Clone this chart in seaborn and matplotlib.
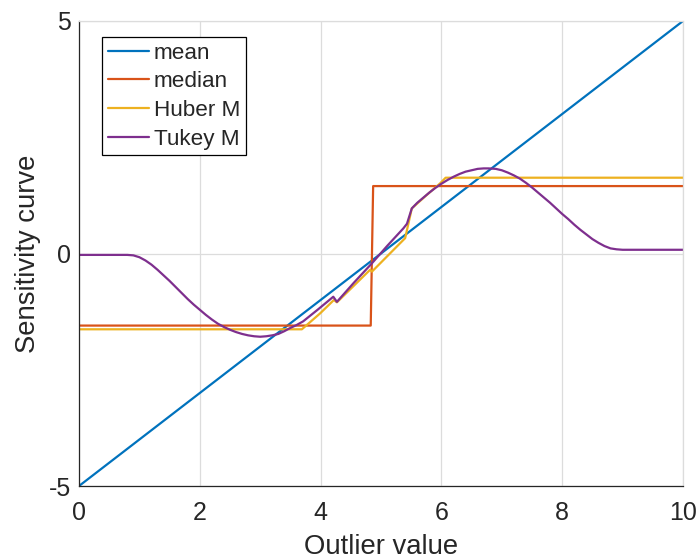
import matplotlib
matplotlib.use("Agg")
import matplotlib.pyplot as plt
import numpy as np
import pandas as pd
import seaborn as sns

# Sensitivity curves of four location estimators as one outlier is moved
mean_x = [0.0, 10.0]
mean_y = [-5.0, 5.0]

median_x = [0.0, 4.83, 4.87, 10.0]
median_y = [-1.55, -1.55, 1.45, 1.45]

huber_x = [0.0, 3.69, 3.99, 4.22, 4.27, 4.82, 4.85, 5.40, 5.51, 5.75, 5.98, 6.07, 10.0]
huber_y = [-1.63, -1.63, -1.29, -1.00, -1.05, -0.35, -0.39, 0.33, 0.97, 1.25, 1.51, 1.63, 1.63]

tukey_x = [0.00, 0.80, 0.90, 1.00, 1.10, 1.20, 1.30, 1.40, 1.50, 1.60, 1.70, 1.80,
           1.90, 2.00, 2.10, 2.20, 2.30, 2.40, 2.50, 2.60, 2.70, 2.80, 2.90, 3.00,
           3.10, 3.20, 3.30, 3.40, 3.50, 3.60, 3.71, 3.95, 4.21, 4.27, 4.55, 4.85,
           5.10, 5.37, 5.43, 5.51, 5.60, 5.70, 5.80, 5.90, 6.00, 6.10, 6.20, 6.30,
           6.40, 6.50, 6.60, 6.70, 6.78, 6.90, 7.00, 7.10, 7.20, 7.30, 7.40, 7.50,
           7.60, 7.70, 7.80, 7.90, 8.00, 8.10, 8.20, 8.30, 8.40, 8.50, 8.60, 8.70,
           8.80, 8.90, 9.00, 10.00]
tukey_y = [-0.03, -0.03, -0.04, -0.08, -0.15, -0.24, -0.35, -0.47, -0.59, -0.72, -0.85, -0.98,
           -1.10, -1.21, -1.32, -1.42, -1.51, -1.58, -1.64, -1.69, -1.73, -1.76, -1.78, -1.79,
           -1.78, -1.76, -1.73, -1.67, -1.60, -1.54, -1.46, -1.21, -0.93, -1.04, -0.63, -0.21,
           0.16, 0.54, 0.64, 0.97, 1.09, 1.20, 1.31, 1.41, 1.50, 1.58, 1.65, 1.71,
           1.76, 1.79, 1.82, 1.83, 1.83, 1.82, 1.79, 1.74, 1.68, 1.61, 1.52, 1.42,
           1.31, 1.20, 1.09, 0.97, 0.85, 0.74, 0.62, 0.51, 0.41, 0.31, 0.23, 0.16,
           0.11, 0.09, 0.08, 0.08]

series_names = ["mean", "median", "Huber M", "Tukey M"]
series_colors = ["#0072BD", "#D95319", "#EDB120", "#7E2F8E"]

frames = []
for name, xs, ys in zip(series_names,
                        [mean_x, median_x, huber_x, tukey_x],
                        [mean_y, median_y, huber_y, tukey_y]):
    frames.append(pd.DataFrame({"x": xs, "y": ys, "series": name}))
df = pd.concat(frames, ignore_index=True)

sns.set_style("white")
plt.rcParams["font.family"] = ["Liberation Sans", "DejaVu Sans"]
plt.rcParams["axes.unicode_minus"] = False

dark = "#262626"
grid_c = "#dcdcdc"

fig = plt.figure(figsize=(7.0, 5.6), dpi=100)
ax = fig.add_axes([79 / 700, 1 - 486 / 560, 604 / 700, 465 / 560])

sns.lineplot(data=df, x="x", y="y", hue="series", hue_order=series_names,
             palette=dict(zip(series_names, series_colors)),
             estimator=None, sort=False, linewidth=1.6, ax=ax, legend=True)

ax.set_xlim(0, 10)
ax.set_ylim(-5, 5)
ax.set_xticks([0, 2, 4, 6, 8, 10])
ax.set_yticks([-5, 0, 5])
ax.grid(True, color=grid_c, linewidth=0.9)
ax.set_axisbelow(True)

for side in ["left", "bottom"]:
    ax.spines[side].set_color(dark)
    ax.spines[side].set_linewidth(0.9)
for side in ["top", "right"]:
    ax.spines[side].set_color(grid_c)
    ax.spines[side].set_linewidth(0.9)

ax.tick_params(axis="both", direction="in", length=5, width=0.9, color=dark,
               labelcolor=dark, labelsize=18)
ax.tick_params(axis="x", pad=11)
ax.tick_params(axis="y", pad=6)

ax.set_xlabel("Outlier value", fontsize=19.8, color=dark, labelpad=6)
ax.set_ylabel("Sensitivity curve", fontsize=19.8, color=dark, labelpad=5)

handles, labels = ax.get_legend_handles_labels()
leg = ax.legend(handles, labels, loc="upper left", bbox_to_anchor=(0.038, 0.9656),
                borderaxespad=0, fontsize=16.2, frameon=True, fancybox=False,
                edgecolor="black", framealpha=1, handlelength=1.85,
                handletextpad=0.2, labelspacing=0.34, borderpad=0.25)
leg.get_frame().set_linewidth(0.9)
for line in leg.get_lines():
    line.set_linewidth(1.6)
for t in leg.get_texts():
    t.set_color(dark)

fig.savefig("out.png", dpi=100)
